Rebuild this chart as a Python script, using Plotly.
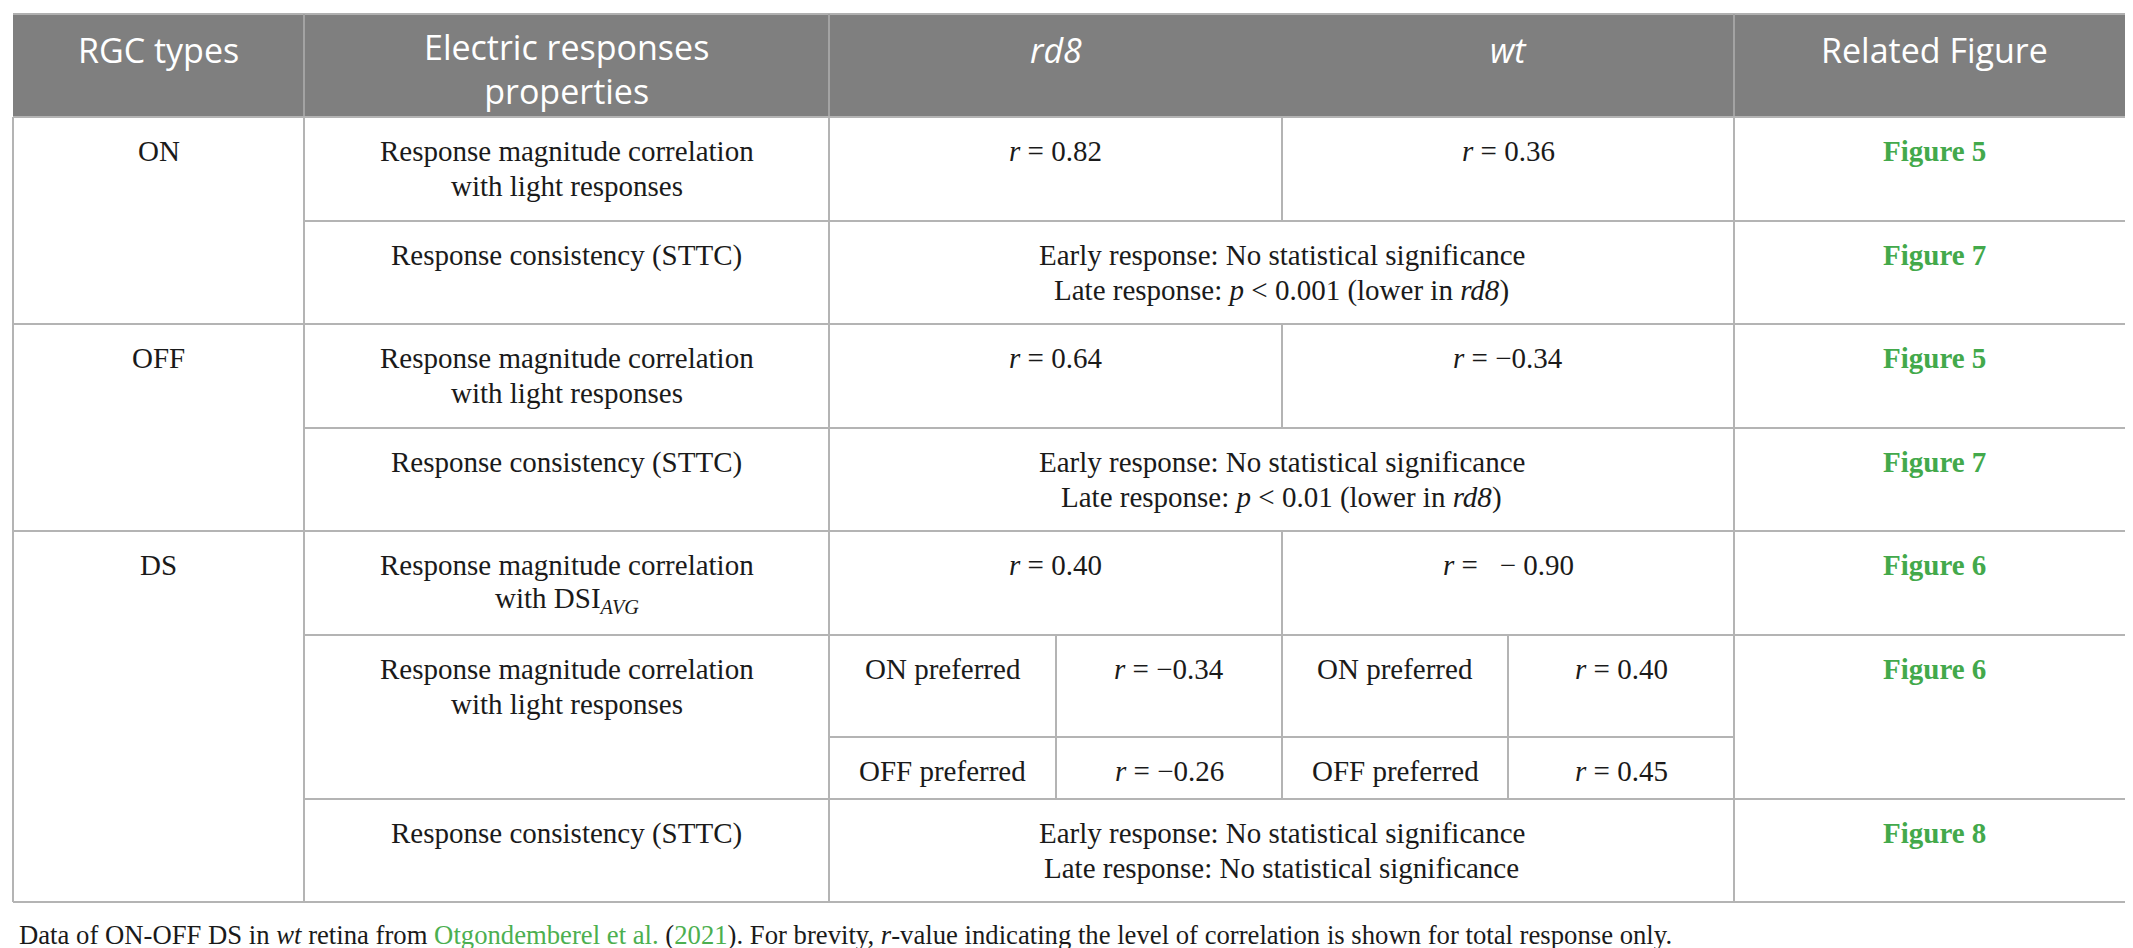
import plotly.graph_objects as go

# ---- table content ----
rgc_types = ["ON", "OFF", "DS"]
header_labels = ["RGC types", "Electric responses<br>properties", "<i>rd8</i>", "<i>wt</i>", "Related Figure"]

prop_light = ["Response magnitude correlation", "with light responses"]
prop_dsi = ["Response magnitude correlation", "with DSI<sub><i>AVG</i></sub>"]
prop_sttc = ["Response consistency (STTC)"]

r_rd8 = [0.82, 0.64, 0.40]      # ON, OFF, DS total response
r_wt = [0.36, -0.34, -0.90]
pref_labels = ["ON preferred", "OFF preferred"]
r_rd8_pref = [-0.34, -0.26]     # DS ON / OFF preferred
r_wt_pref = [0.40, 0.45]

sttc_early = ["No statistical significance", "No statistical significance", "No statistical significance"]
sttc_late = ["<i>p</i> < 0.001 (lower in <i>rd8</i>)", "<i>p</i> < 0.01 (lower in <i>rd8</i>)", "No statistical significance"]
related_figs = ["Figure 5", "Figure 7", "Figure 5", "Figure 7", "Figure 6", "Figure 6", "Figure 8"]

caption = ("Data of ON-OFF DS in <i>wt</i> retina from "
           "<span style='color:#4CAF50'>Otgondemberel et al.</span> "
           "(<span style='color:#4CAF50'>2021</span>). For brevity, <i>r</i>-value indicating "
           "the level of correlation is shown for total response only.")

# ---- geometry (pixels) ----
W, H = 2133, 948
cx = [5, 296, 821, 1048, 1274, 1500, 1726, 2126]   # column edges
top, head_b = 6, 109
row_tops = [109, 213, 316, 420, 523, 627, 791]     # body rows
sub_b, bottom = 729, 894

GRID = "#b4b4b4"
HEAD_BG = "#7f7f7f"
GREEN = "#43A94B"
SERIF = "Liberation Serif"
SANS = "Open Sans"
BODY = 29
HEAD = 34


def fmt_r(v, spaced=False):
    s = f"{abs(v):.2f}"
    if v < 0:
        s = ("  − " if spaced else "−") + s
    return f"<i>r</i> = {s}"


fig = go.Figure()

shapes = []
ann = []


def line(x0, y0, x1, y1, color=GRID, w=2):
    shapes.append(dict(type="line", x0=x0, y0=y0, x1=x1, y1=y1, line=dict(color=color, width=w), layer="above"))


def text(x, y, s, size=BODY, color="#1a1a1a", family=SERIF, xanchor="center"):
    ann.append(dict(x=x, y=y, text=s, showarrow=False, xanchor=xanchor, yanchor="middle",
                    font=dict(size=size, color=color, family=family)))


def cell_lines(xmid, ytop, lines):
    for i, s in enumerate(lines):
        text(xmid, ytop + 34 + 35 * i, s)


# header background
shapes.append(dict(type="rect", x0=cx[0], y0=top, x1=cx[-1], y1=head_b, fillcolor=HEAD_BG,
                   line=dict(width=0), layer="below"))
line(cx[0], top, cx[-1], top, "#b0b0b0")
for x in [cx[1], cx[2], cx[6]]:
    line(x, top, x, head_b, "#a3a3a3")

# header texts (one annotation per cell, second line wraps below)
hx = [(cx[0] + cx[1]) / 2, (cx[1] + cx[2]) / 2, (cx[2] + cx[4]) / 2, (cx[4] + cx[6]) / 2, (cx[6] + cx[7]) / 2]
for x, lab in zip(hx, header_labels):
    n = lab.count("<br>")
    text(x, 42 + 19 * n, lab, size=HEAD, color="white", family=SANS)

# body grid
line(cx[0], head_b, cx[-1], head_b)
line(cx[0], bottom, cx[-1], bottom)
for x in [cx[0], cx[1], cx[2], cx[6], cx[7]]:
    line(x, head_b, x, bottom)
for y in row_tops[1:]:
    x0 = cx[0] if y in (316, 523) else cx[1]
    line(x0, y, cx[-1], y)
line(cx[2], sub_b, cx[6], sub_b)
# rd8 | wt split on correlation rows
for y0, y1 in [(109, 213), (316, 420), (523, 791)]:
    line(cx[4], y0, cx[4], y1)
for x in [cx[3], cx[5]]:
    line(x, 627, x, 791)

c_rgc = (cx[0] + cx[1]) / 2
c_prop = (cx[1] + cx[2]) / 2
c_rd8 = (cx[2] + cx[4]) / 2
c_wt = (cx[4] + cx[6]) / 2
c_both = (cx[2] + cx[6]) / 2
c_fig = (cx[6] + cx[7]) / 2

# RGC type labels
for lab, y in zip(rgc_types, [109, 316, 523]):
    cell_lines(c_rgc, y, [lab])

# property column
props = [prop_light, prop_sttc, prop_light, prop_sttc, prop_dsi, prop_light, prop_sttc]
for p, y in zip(props, row_tops):
    cell_lines(c_prop, y, p)

# correlations for total response
for k, y in enumerate([109, 316, 523]):
    cell_lines(c_rd8, y, [fmt_r(r_rd8[k])])
    cell_lines(c_wt, y, [fmt_r(r_wt[k], spaced=(k == 2))])

# STTC rows
for k, y in enumerate([213, 420, 791]):
    cell_lines(c_both, y, ["Early response: " + sttc_early[k], "Late response: " + sttc_late[k]])

# DS preferred split
for j, y in enumerate([627, sub_b]):
    cell_lines((cx[2] + cx[3]) / 2, y, [pref_labels[j]])
    cell_lines((cx[3] + cx[4]) / 2, y, [fmt_r(r_rd8_pref[j])])
    cell_lines((cx[4] + cx[5]) / 2, y, [pref_labels[j]])
    cell_lines((cx[5] + cx[6]) / 2, y, [fmt_r(r_wt_pref[j])])

# related figures
for f, y in zip(related_figs, row_tops):
    text(c_fig, y + 34, f"<b>{f}</b>", color=GREEN)

# caption
text(9, 927, caption, size=26.7, xanchor="left")

fig.update_layout(
    width=W, height=H,
    margin=dict(l=0, r=0, t=0, b=0),
    paper_bgcolor="white", plot_bgcolor="white",
    showlegend=False,
    shapes=shapes, annotations=ann,
    xaxis=dict(range=[0, W], visible=False, fixedrange=True),
    yaxis=dict(range=[H, 0], visible=False, fixedrange=True),
)

fig.write_html("out.html")
